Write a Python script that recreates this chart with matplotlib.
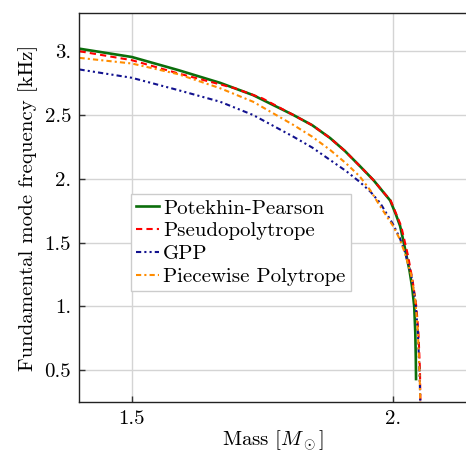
import matplotlib
matplotlib.use("Agg")
import matplotlib.pyplot as plt

plt.rcParams["font.family"] = ["cmr10", "DejaVu Serif"]
plt.rcParams["mathtext.fontset"] = "cm"
plt.rcParams["axes.formatter.use_mathtext"] = True
plt.rcParams["font.size"] = 15

# mass [M_sun] vs fundamental mode frequency [kHz]
pp_mass = [1.40, 1.50, 1.589, 1.669, 1.732, 1.809, 1.845, 1.879, 1.907, 1.936, 1.962,
           1.980, 1.994, 2.005, 2.013, 2.020, 2.026, 2.031, 2.036, 2.040, 2.042,
           2.043, 2.0435]
pp_freq = [3.02, 2.955, 2.852, 2.752, 2.656, 2.50, 2.42, 2.32, 2.22, 2.10, 1.99,
           1.90, 1.83, 1.72, 1.63, 1.50, 1.38, 1.28, 1.15, 1.00, 0.80,
           0.60, 0.43]

pseudo_mass = [1.40, 1.50, 1.589, 1.697, 1.75, 1.809, 1.845, 1.879, 1.907, 1.936, 1.962,
               1.980, 1.995, 2.006, 2.015, 2.028, 2.037, 2.044, 2.048, 2.051, 2.052]
pseudo_freq = [3.00, 2.93, 2.826, 2.71, 2.63, 2.50, 2.42, 2.32, 2.22, 2.10, 1.99,
               1.90, 1.83, 1.72, 1.63, 1.40, 1.20, 1.00, 0.80, 0.50, 0.20]

gpp_mass = [1.40, 1.50, 1.589, 1.669, 1.732, 1.809, 1.845, 1.879, 1.91, 1.936, 1.956,
            1.975, 2.0, 2.012, 2.022, 2.034, 2.042, 2.047, 2.050, 2.052]
gpp_freq = [2.857, 2.792, 2.695, 2.604, 2.50, 2.33, 2.245, 2.148, 2.06, 1.975, 1.90,
            1.81, 1.64, 1.54, 1.43, 1.25, 1.05, 0.80, 0.50, 0.20]

pw_mass = [1.40, 1.50, 1.589, 1.669, 1.732, 1.809, 1.845, 1.879, 1.91, 1.936, 1.956,
           1.975, 2.0, 2.012, 2.022, 2.034, 2.042, 2.047, 2.050, 2.052]
pw_freq = [2.948, 2.904, 2.82, 2.71, 2.604, 2.422, 2.33, 2.227, 2.12, 2.018, 1.91,
           1.784, 1.627, 1.53, 1.42, 1.25, 1.05, 0.80, 0.50, 0.20]

x_ticks = [1.5, 2.0]
x_ticklabels = ["1.5", "2."]
y_ticks = [0.5, 1.0, 1.5, 2.0, 2.5, 3.0]
y_ticklabels = ["0.5", "1.", "1.5", "2.", "2.5", "3."]

fig = plt.figure(figsize=(4.66, 4.54), dpi=100)
ax = fig.add_axes([0.1706, 0.1145, 0.8294, 0.8569])

ax.plot(pp_mass, pp_freq, "-", color="#0b6e0b", lw=1.9, label="Potekhin-Pearson")
ax.plot(pseudo_mass, pseudo_freq, color="red", lw=1.5, dashes=(3, 2), label="Pseudopolytrope")
ax.plot(gpp_mass, gpp_freq, color="#12128f", lw=1.5, dashes=(2.5, 1.5, 1, 1.5, 1, 1.5),
        label="GPP")
ax.plot(pw_mass, pw_freq, color="darkorange", lw=1.5, dashes=(2.5, 1.5, 1, 1.5),
        label="Piecewise Polytrope")

ax.set_xlim(1.4, 2.139)
ax.set_ylim(0.25, 3.3)
ax.set_xticks(x_ticks)
ax.set_xticklabels(x_ticklabels)
ax.set_yticks(y_ticks)
ax.set_yticklabels(y_ticklabels)
ax.tick_params(direction="in", length=4, width=1, color="#333333", pad=6)
ax.grid(True, color="#d4d4d4", lw=1)
ax.set_axisbelow(True)
ax.spines["right"].set_visible(False)
for s in ("left", "bottom", "top"):
    ax.spines[s].set_linewidth(1.0)
    ax.spines[s].set_color("#222222")

ax.set_xlabel(r"Mass $[M_\odot]$", labelpad=0)
ax.set_ylabel("Fundamental mode frequency [kHz]", labelpad=5)

leg = ax.legend(loc="lower left", bbox_to_anchor=(0.133, 0.285), borderaxespad=0,
                handlelength=1.1, handletextpad=0.2, labelspacing=0.2,
                borderpad=0.25, fancybox=False, framealpha=1, edgecolor="#cccccc")
leg.get_frame().set_linewidth(1.0)

fig.savefig("out.png", dpi=100)
